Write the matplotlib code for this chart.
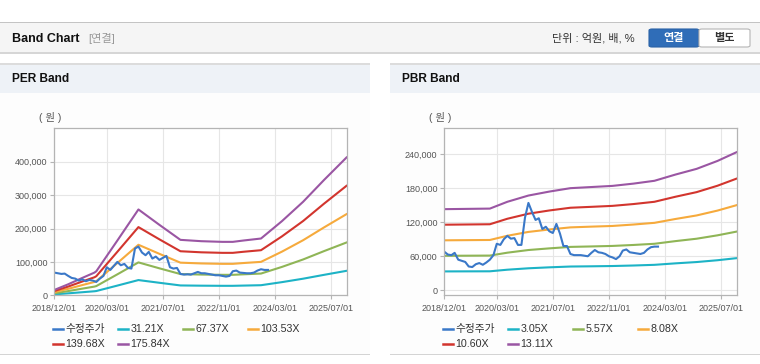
import numpy as np
import pandas as pd
import matplotlib
matplotlib.use('Agg')
import matplotlib.pyplot as plt
from matplotlib.patches import Rectangle, FancyBboxPatch
from matplotlib.lines import Line2D
from matplotlib.ticker import FuncFormatter

plt.rcParams['font.family'] = ['Liberation Sans', 'Noto Sans CJK KR']

# ---------------- data (천원 단위로 읽음) ----------------
price_start = '2018-12-01'
per_price = [68, 66, 64, 65, 58, 52, 50, 44, 48, 42, 46, 44, 40, 50, 58, 84, 76, 88, 100, 90,
             94, 82, 80, 140, 146, 128, 120, 130, 110, 116, 106, 112, 118, 84, 80, 82, 64, 62,
             63, 62, 66, 70, 66, 66, 64, 62, 60, 60, 58, 56, 58, 72, 74, 68, 67, 66, 66, 68,
             74, 78, 76, 76]
pbr_price = [68, 63, 62, 66, 54, 52, 50, 42, 41, 46, 48, 45, 49, 54, 62, 82, 80, 90, 96, 91,
             92, 80, 80, 128, 154, 138, 124, 127, 108, 112, 104, 101, 117, 100, 78, 78, 64, 62,
             62, 62, 61, 60, 66, 71, 67, 66, 64, 60, 58, 55, 60, 70, 72, 67, 66, 65, 64, 66,
             72, 76, 77, 77]

per_dates = ['2018-12-01', '2019-04-01', '2019-08-01', '2019-11-15', '2019-12-01', '2020-06-01',
             '2020-12-01', '2021-06-01', '2021-12-01', '2022-06-01', '2022-12-01', '2023-03-01',
             '2023-06-01', '2023-11-01', '2024-05-01', '2024-11-01', '2025-05-01', '2025-11-20']
per_labels = ['수정주가', '31.21X', '67.37X', '103.53X', '139.68X', '175.84X']
per_31 = [2.8, 5.9, 9.2, 12.1, 12.8, 29.1, 45.6, 37.5, 29.5, 28.8, 28.4, 28.4, 29.1, 30.2, 39.4, 49.7, 61.2, 73.7]
per_67 = [6.1, 12.6, 19.9, 26.1, 27.6, 62.8, 98.5, 80.8, 63.6, 62.1, 61.3, 61.3, 62.8, 65.1, 85.0, 107.3, 132.2, 159.0]
per_103 = [9.4, 19.4, 30.6, 40.0, 42.4, 96.6, 151.3, 124.2, 97.7, 95.4, 94.2, 94.2, 96.6, 100.1, 130.7, 164.9, 203.1, 244.4]
per_139 = [12.7, 26.2, 41.3, 54.0, 57.2, 130.3, 204.2, 167.6, 131.9, 128.7, 127.1, 127.1, 130.3, 135.0, 176.4, 222.4, 274.1, 329.7]
per_175 = [16, 33, 52, 68, 72, 164, 257, 211, 166, 162, 160, 160, 164, 170, 222, 280, 345, 415]

pbr_dates = ['2018-12-01', '2020-01-01', '2020-06-01', '2020-12-01', '2021-06-01', '2021-12-01',
             '2022-06-01', '2022-12-01', '2023-06-01', '2023-12-01', '2024-06-01', '2024-12-01',
             '2025-06-01', '2025-11-20']
pbr_labels = ['수정주가', '3.05X', '5.57X', '8.08X', '10.60X', '13.11X']
pbr_3 = [33.3, 33.5, 36.3, 38.8, 40.5, 41.9, 42.3, 42.8, 43.7, 44.9, 47.5, 49.8, 53.0, 56.8]
pbr_5 = [60.8, 61.2, 66.3, 71.0, 73.9, 76.5, 77.3, 78.2, 79.9, 82.0, 86.7, 90.9, 96.9, 103.7]
pbr_8 = [88.1, 88.7, 96.1, 102.9, 107.2, 110.9, 112.2, 113.4, 115.9, 118.9, 125.7, 131.9, 140.5, 150.4]
pbr_10 = [115.6, 116.4, 126.1, 135.0, 140.7, 145.5, 147.1, 148.8, 152.0, 156.0, 164.9, 173.0, 184.3, 197.3]
pbr_13 = [143, 144, 156, 167, 174, 180, 182, 184, 188, 193, 204, 214, 228, 244]

tick_dates = ['2018-12-01', '2020-03-01', '2021-07-01', '2022-11-01', '2024-03-01', '2025-07-01']
colors = ['#3a78c8', '#1db3c6', '#8fb556', '#f6aa3c', '#d2352e', '#9a56a3']

W, H = 760, 364
fig = plt.figure(figsize=(7.6, 3.64), dpi=100, facecolor='white')


def box(x, y, w, h, **kw):
    # 픽셀 좌표(위에서부터)로 사각형
    r = Rectangle((x / W, 1 - (y + h) / H), w / W, h / H, transform=fig.transFigure,
                  zorder=-5, **kw)
    fig.add_artist(r)


def txt(x, y, s, **kw):
    fig.text(x / W, 1 - y / H, s, va='center', **kw)


# ---------------- 상단 헤더 ----------------
box(0, 22, 760, 31, facecolor='#f5f5f5', edgecolor='none')
box(0, 22, 760, 1.2, facecolor='#c4c4c4', edgecolor='none')
box(0, 52, 760, 1.5, facecolor='#d6d6d6', edgecolor='none')
txt(12, 38.5, 'Band Chart', fontsize=9, fontweight='bold', color='#111111')
txt(88, 38.5, '[연결]', fontsize=8, color='#999999')
txt(552, 38.5, '단위 : 억원, 배, %', fontsize=8, color='#333333')
b1 = FancyBboxPatch((649 / W, 1 - 47 / H), 50 / W, 18 / H, boxstyle='round,pad=0,rounding_size=0.004',
                    transform=fig.transFigure, facecolor='#2f6db8', edgecolor='#2a62a6', lw=0.8)
b2 = FancyBboxPatch((699 / W, 1 - 47 / H), 51 / W, 18 / H, boxstyle='round,pad=0,rounding_size=0.004',
                    transform=fig.transFigure, facecolor='white', edgecolor='#b5b5b5', lw=0.8)
fig.add_artist(b1)
fig.add_artist(b2)
txt(674, 38, '연결', fontsize=8, fontweight='bold', color='white', ha='center')
txt(724.5, 38, '별도', fontsize=8, fontweight='bold', color='#333333', ha='center')


# ---------------- 패널 ----------------
def panel(x0, title, ax_left, ylim, yticks, dates, bands, price, labels):
    box(x0, 64, 370, 290, facecolor='#fdfdfd', edgecolor='none')
    box(x0, 64, 370, 29, facecolor='#eef2f7', edgecolor='none')
    box(x0, 63.5, 370, 1.2, facecolor='#dcdcdc', edgecolor='none')
    box(x0, 353.5, 370, 1.5, facecolor='#d4d4d4', edgecolor='none')
    txt(x0 + 12, 79.5, title, fontsize=8.6, fontweight='bold', color='#111111')
    txt(ax_left - 4.5, 118, '( 원 )', fontsize=7.5, color='#555555', ha='center')

    ax = fig.add_axes([ax_left / W, 1 - 295.3 / H, 293 / W, 167 / H])
    ax.set_facecolor('white')
    bd = pd.to_datetime(dates)
    for vals, c in zip(bands, colors[1:]):
        ax.plot(bd, np.array(vals) * 1000, color=c, lw=1.5, solid_capstyle='butt')
    pd_ = pd.date_range(price_start, periods=len(price), freq='MS')
    ax.plot(pd_, np.array(price) * 1000, color=colors[0], lw=1.5)

    ax.set_xlim(pd.Timestamp('2018-12-01'), pd.Timestamp('2025-11-20'))
    ax.set_ylim(*ylim)
    ax.set_yticks(yticks)
    ax.yaxis.set_major_formatter(FuncFormatter(lambda v, p: f'{v:,.0f}'))
    td = pd.to_datetime(tick_dates)
    ax.set_xticks(td)
    ax.set_xticklabels([d.strftime('%Y/%m/%d') for d in td])
    ax.grid(True, color='#e6e6e6', lw=0.8)
    ax.set_axisbelow(True)
    for s in ax.spines.values():
        s.set_color('#b4b4b4')
        s.set_linewidth(0.9)
    ax.tick_params(axis='both', labelsize=6.5, labelcolor='#555555', color='#b4b4b4',
                   length=3, width=0.8, pad=2)
    ax.tick_params(axis='x', pad=3)

    # 범례
    for i, (lab, c) in enumerate(zip(labels, colors)):
        row, col = divmod(i, 4)
        lx = ax_left - 1.6 + col * 65
        ly = 329.3 + row * 14.7
        fig.add_artist(Line2D([lx / W, (lx + 10.5) / W], [1 - ly / H, 1 - ly / H],
                              transform=fig.transFigure, color=c, lw=1.8))
        txt(lx + 13, ly, lab, fontsize=7.7, color='#333333')
    return ax


panel(0, 'PER Band', 54.3, (0, 500000), [0, 100000, 200000, 300000, 400000],
      per_dates, [per_31, per_67, per_103, per_139, per_175], per_price, per_labels)
panel(390, 'PBR Band', 444.3, (-8800, 285500), [0, 60000, 120000, 180000, 240000],
      pbr_dates, [pbr_3, pbr_5, pbr_8, pbr_10, pbr_13], pbr_price, pbr_labels)

fig.savefig('out.png', dpi=100)
